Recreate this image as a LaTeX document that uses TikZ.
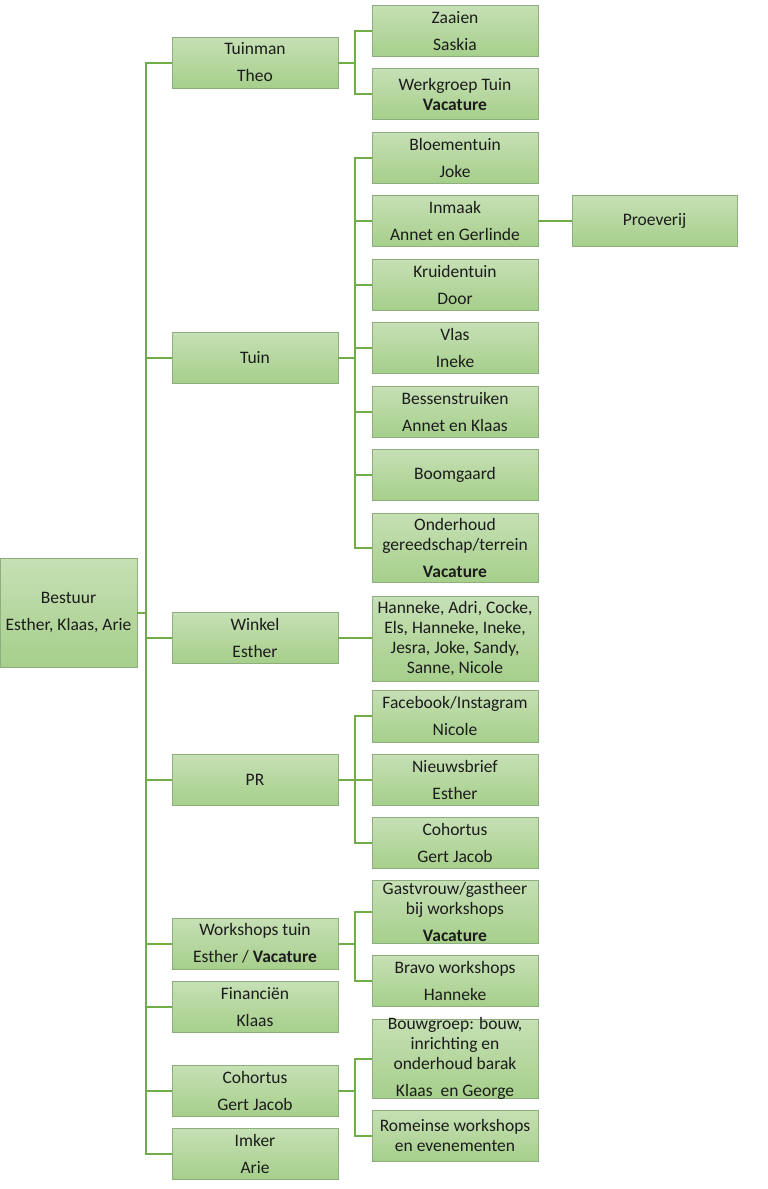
\documentclass[tikz,border=0pt]{standalone}
\usepackage{fontspec}
\setmainfont{Carlito}
\definecolor{boxtop}{HTML}{C6E0B5}
\definecolor{boxbot}{HTML}{A6CF8B}
\definecolor{boxline}{HTML}{8EAF7D}
\definecolor{connc}{HTML}{70AD47}
\definecolor{txtc}{HTML}{1C1C1C}
\tikzset{
  orgbox/.style={draw=boxline, line width=0.9pt, top color=boxtop, bottom color=boxbot,
    minimum width=166pt, minimum height=51pt, inner sep=0pt},
  txt/.style={text=txtc, align=center, font=\fontsize{17.5}{20}\selectfont, inner sep=0pt},
  link/.style={draw=connc, line width=2pt}
}
\begin{document}
\begin{tikzpicture}[x=1pt,y=-1pt]
\useasboundingbox (0,0) rectangle (768,1189);
% root
\node[orgbox, minimum width=137pt, minimum height=109pt] (bestuur) at (68.5,612.5) {};
% level 1
\node[orgbox] (tuinman) at (255,62.5) {};
\node[orgbox] (tuin) at (255,357.5) {};
\node[orgbox] (winkel) at (255,637.5) {};
\node[orgbox] (pr) at (255,780) {};
\node[orgbox] (workshops) at (255,943.5) {};
\node[orgbox] (financien) at (255,1007) {};
\node[orgbox] (cohortus) at (255,1090.5) {};
\node[orgbox] (imker) at (255,1153.5) {};
% level 2
\node[orgbox] (zaaien) at (455,31) {};
\node[orgbox] (werkgroep) at (455,94) {};
\node[orgbox] (bloementuin) at (455,157.5) {};
\node[orgbox] (inmaak) at (455,221) {};
\node[orgbox] (kruidentuin) at (455,284.5) {};
\node[orgbox] (vlas) at (455,347.5) {};
\node[orgbox] (bessen) at (455,411.5) {};
\node[orgbox] (boomgaard) at (455,475) {};
\node[orgbox, minimum height=69pt] (onderhoud) at (455,547.5) {};
\node[orgbox, minimum height=85pt] (winkelm) at (455,638.5) {};
\node[orgbox, minimum height=52pt] (facebook) at (455,716) {};
\node[orgbox] (nieuwsbrief) at (455,779.5) {};
\node[orgbox] (cohortuspr) at (455,843) {};
\node[orgbox, minimum height=63pt] (gastvrouw) at (455,911.5) {};
\node[orgbox] (bravo) at (455,981) {};
\node[orgbox, minimum height=79pt] (bouwgroep) at (455,1058.5) {};
\node[orgbox] (romeinse) at (455,1135.5) {};
% level 3
\node[orgbox, minimum width=165pt] (proeverij) at (654.5,221) {};
% texts
\node[txt] (bestuur-t) at (bestuur) {Bestuur\\[7pt]Esther, Klaas, Arie};
\node[txt] (tuinman-t) at (tuinman) {Tuinman\\[7pt]Theo};
\node[txt] (tuin-t) at (tuin) {Tuin};
\node[txt] (winkel-t) at (winkel) {Winkel\\[7pt]Esther};
\node[txt] (pr-t) at (pr) {PR};
\node[txt] (workshops-t) at (workshops) {Workshops tuin\\[7pt]Esther / \textbf{Vacature}};
\node[txt] (financien-t) at (financien) {Financiën\\[7pt]Klaas};
\node[txt] (cohortus-t) at (cohortus) {Cohortus\\[7pt]Gert Jacob};
\node[txt] (imker-t) at (imker) {Imker\\[7pt]Arie};
\node[txt] (zaaien-t) at (zaaien) {Zaaien\\[7pt]Saskia};
\node[txt] (werkgroep-t) at (werkgroep) {Werkgroep Tuin\\\textbf{Vacature}};
\node[txt] (bloementuin-t) at (bloementuin) {Bloementuin\\[7pt]Joke};
\node[txt] (inmaak-t) at (inmaak) {Inmaak\\[7pt]Annet en Gerlinde};
\node[txt] (kruidentuin-t) at (kruidentuin) {Kruidentuin\\[7pt]Door};
\node[txt] (vlas-t) at (vlas) {Vlas\\[7pt]Ineke};
\node[txt] (bessen-t) at (bessen) {Bessenstruiken\\[7pt]Annet en Klaas};
\node[txt] (boomgaard-t) at (boomgaard) {Boomgaard};
\node[txt] (onderhoud-t) at (onderhoud) {Onderhoud\\gereedschap/terrein\\[7pt]\textbf{Vacature}};
\node[txt] (winkelm-t) at (winkelm) {Hanneke, Adri, Cocke,\\Els, Hanneke, Ineke,\\Jesra, Joke, Sandy,\\Sanne, Nicole};
\node[txt] (facebook-t) at (facebook) {Facebook/Instagram\\[7pt]Nicole};
\node[txt] (nieuwsbrief-t) at (nieuwsbrief) {Nieuwsbrief\\[7pt]Esther};
\node[txt] (cohortuspr-t) at (cohortuspr) {Cohortus\\[7pt]Gert Jacob};
\node[txt] (gastvrouw-t) at (gastvrouw) {Gastvrouw/gastheer\\bij workshops\\[7pt]\textbf{Vacature}};
\node[txt] (bravo-t) at (bravo) {Bravo workshops\\[7pt]Hanneke};
\node[txt] (bouwgroep-t) at (bouwgroep) {Bouwgroep: bouw,\\inrichting en\\onderhoud barak\\[7pt]Klaas\ \ en George};
\node[txt] (romeinse-t) at (romeinse) {Romeinse workshops\\en evenementen};
\node[txt] (proeverij-t) at (proeverij) {Proeverij};
% connectors from root
\foreach \c in {tuinman,tuin,winkel,pr,workshops,financien,cohortus,imker}
  \draw[link] (bestuur.east) -- ++(9,0) |- (\c.west);
% Tuinman
\foreach \c in {zaaien,werkgroep}
  \draw[link] (tuinman.east) -- ++(17,0) |- (\c.west);
% Tuin
\foreach \c in {bloementuin,inmaak,kruidentuin,vlas,bessen,boomgaard,onderhoud}
  \draw[link] (tuin.east) -- ++(17,0) |- (\c.west);
% Winkel
\draw[link] (winkel.east) -- (winkelm.west |- winkel.east);
% PR
\foreach \c in {facebook,nieuwsbrief,cohortuspr}
  \draw[link] (pr.east) -- ++(17,0) |- (\c.west);
% Workshops
\foreach \c in {gastvrouw,bravo}
  \draw[link] (workshops.east) -- ++(17,0) |- (\c.west);
% Cohortus
\foreach \c in {bouwgroep,romeinse}
  \draw[link] (cohortus.east) -- ++(17,0) |- (\c.west);
% Inmaak
\draw[link] (inmaak.east) -- (proeverij.west);
\end{tikzpicture}
\end{document}
